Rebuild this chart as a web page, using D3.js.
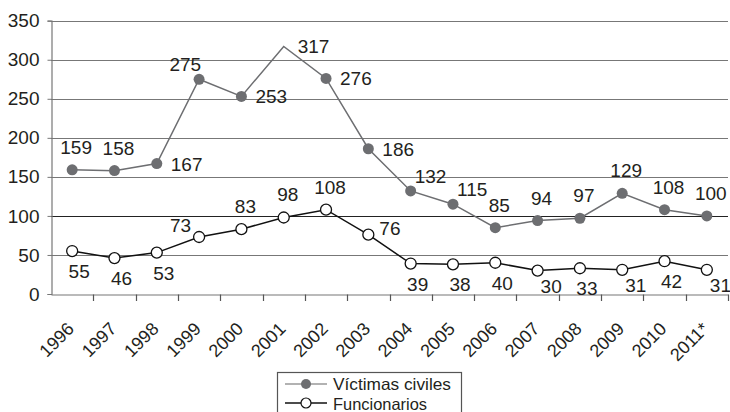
<!DOCTYPE html>
<html>
<head>
<meta charset="utf-8">
<script src="https://cdn.jsdelivr.net/npm/d3@7"></script>
<style>
body { margin: 0; background: #fff; }
svg text { font-family: "Liberation Sans", Arial, sans-serif; fill: #231f20; }
</style>
</head>
<body>
<div class="chart"></div>
<script>
var years = ["1996","1997","1998","1999","2000","2001","2002","2003","2004","2005","2006","2007","2008","2009","2010","2011*"];
var victimas = [159,158,167,275,253,317,276,186,132,115,85,94,97,129,108,100];
var funcionarios = [55,46,53,73,83,98,108,76,39,38,40,30,33,31,42,31];
var yTicks = [0,50,100,150,200,250,300,350];
// where each value label sits next to its point
var victimasPos = ["t","t","r","tl","r","r","r","r","tr","tr","t","t","t","t","t","t"];
var funcionariosPos = ["b","b","b","l","t","t","t","rt","b","b","b","br","b","br","b","br"];
// 2001 victims point is drawn without a marker in the original
var noMarker = ["2001"];

var width = 730, height = 412;
var svg = d3.select(".chart").append("svg")
	.attr("width", width)
	.attr("height", height);

var x = d3.scaleBand().domain(years).range([51, 728]);
var y = d3.scaleLinear().domain([0, 350]).range([294, 20.7]);
function cx(d) { return x(d) + x.bandwidth() / 2; }

// grid lines
svg.selectAll("line.grid").data(yTicks.slice(1)).enter().append("line")
	.attr("class", "grid")
	.attr("x1", 51).attr("x2", 728)
	.attr("y1", function(d){return Math.round(y(d)) + 0.5;})
	.attr("y2", function(d){return Math.round(y(d)) + 0.5;})
	.attr("stroke", function(d){return d == 100 ? "#222" : "#777";})
	.attr("stroke-width", 1.2);

// y axis
var yAxis = svg.append("g").attr("transform", "translate(51.5,0)")
	.call(d3.axisLeft(y).tickValues(yTicks).tickSize(4).tickPadding(8));
yAxis.select(".domain").attr("stroke", "#777").attr("stroke-width", 1.2);
yAxis.selectAll(".tick line").attr("stroke", "#777");
yAxis.selectAll("text").style("font-size", "19px").attr("fill", "#231f20");

// x axis
var xAxis = svg.append("g").attr("transform", "translate(0," + 294.5 + ")")
	.call(d3.axisBottom(x).tickSize(0).tickFormat(""));
xAxis.select(".domain").attr("stroke", "#777").attr("stroke-width", 1.2);
xAxis.selectAll(".tick").remove();
svg.selectAll("line.xtick").data(years).enter().append("line")
	.attr("class", "xtick")
	.attr("x1", function(d){return Math.round(x(d) + x.bandwidth()) + 0.5;})
	.attr("x2", function(d){return Math.round(x(d) + x.bandwidth()) + 0.5;})
	.attr("y1", 294.5).attr("y2", 301)
	.attr("stroke", "#555").attr("stroke-width", 1.2);
svg.selectAll("text.xlab").data(years).enter().append("text")
	.attr("class", "xlab")
	.attr("text-anchor", "end")
	.attr("transform", function(d){return "translate(" + (cx(d) + 3) + ",330) rotate(-45)";})
	.style("font-size", "18px")
	.text(function(d){return d;});

var line = d3.line().x(function(d){return cx(d.year);}).y(function(d){return y(d.v);});
var vData = years.map(function(yr, i){return {year: yr, v: victimas[i], pos: victimasPos[i]};});
var fData = years.map(function(yr, i){return {year: yr, v: funcionarios[i], pos: funcionariosPos[i]};});

svg.append("path").datum(vData).attr("d", line)
	.attr("fill", "none").attr("stroke", "#6d6e71").attr("stroke-width", 1.5);
svg.append("path").datum(fData).attr("d", line)
	.attr("fill", "none").attr("stroke", "#111").attr("stroke-width", 1.5);

svg.selectAll("circle.v").data(vData.filter(function(d){return noMarker.indexOf(d.year) < 0;})).enter().append("circle")
	.attr("class", "v")
	.attr("cx", function(d){return cx(d.year);})
	.attr("cy", function(d){return y(d.v);})
	.attr("r", 5.5)
	.attr("fill", "#6d6e71");
svg.selectAll("circle.f").data(fData).enter().append("circle")
	.attr("class", "f")
	.attr("cx", function(d){return cx(d.year);})
	.attr("cy", function(d){return y(d.v);})
	.attr("r", 5.5)
	.attr("fill", "#fff").attr("stroke", "#111").attr("stroke-width", 1.3);

var offsets = {
	t: [4, -16, "middle"], b: [7, 27, "middle"], r: [14, 7, "start"],
	tl: [2, -8, "end"], l: [-8, -5, "end"], tr: [4, -8, "start"],
	rt: [11, 0, "start"], br: [3, 22, "start"]
};
function labels(data, cls) {
	svg.selectAll("text." + cls).data(data).enter().append("text")
		.attr("class", cls)
		.attr("x", function(d){return cx(d.year) + offsets[d.pos][0];})
		.attr("y", function(d){return y(d.v) + offsets[d.pos][1];})
		.attr("text-anchor", function(d){return offsets[d.pos][2];})
		.style("font-size", "19px")
		.text(function(d){return d.v;});
}
labels(vData, "vl");
labels(fData, "fl");

// legend
var lg = svg.append("g");
lg.append("rect").attr("x", 277.5).attr("y", 372.5).attr("width", 184).attr("height", 60)
	.attr("fill", "#fff").attr("stroke", "#555").attr("stroke-width", 1.2);
lg.append("line").attr("x1", 285).attr("x2", 327).attr("y1", 384).attr("y2", 384)
	.attr("stroke", "#999").attr("stroke-width", 1.5);
lg.append("circle").attr("cx", 306).attr("cy", 384).attr("r", 5).attr("fill", "#6d6e71");
lg.append("line").attr("x1", 285).attr("x2", 327).attr("y1", 403).attr("y2", 403)
	.attr("stroke", "#111").attr("stroke-width", 1.3);
lg.append("circle").attr("cx", 306).attr("cy", 403).attr("r", 5).attr("fill", "#fff").attr("stroke", "#111").attr("stroke-width", 1.2);
lg.append("text").attr("x", 333).attr("y", 390).style("font-size", "16.5px")
	.attr("textLength", 118).attr("lengthAdjust", "spacingAndGlyphs").text("Víctimas civiles");
lg.append("text").attr("x", 333).attr("y", 409.5).style("font-size", "16.5px")
	.attr("textLength", 94).attr("lengthAdjust", "spacingAndGlyphs").text("Funcionarios");
</script>
</body>
</html>
